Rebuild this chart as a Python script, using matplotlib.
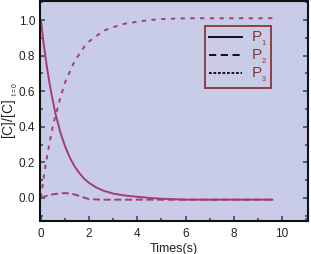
import matplotlib
matplotlib.use('Agg')
import matplotlib.pyplot as plt
from matplotlib.ticker import MultipleLocator

plt.rcParams['font.family'] = 'Liberation Sans'
plt.rcParams['mathtext.fontset'] = 'custom'
plt.rcParams['mathtext.rm'] = 'Liberation Sans'
plt.rcParams['mathtext.it'] = 'Liberation Sans'

# time points
t = [0, 0.1, 0.2, 0.3, 0.4, 0.5, 0.6, 0.8, 1.0, 1.2, 1.4, 1.6, 1.8, 2.0,
     2.3, 2.6, 3.0, 3.5, 4.0, 4.5, 5.0, 6, 7, 8, 9, 9.6]
p1 = [1.0, 0.88, 0.78, 0.69, 0.61, 0.54, 0.475, 0.37, 0.29, 0.226, 0.176,
      0.138, 0.107, 0.084, 0.058, 0.040, 0.024, 0.013, 0.006, 0.0, -0.005,
      -0.01, -0.01, -0.01, -0.01, -0.01]

t2 = [0, 0.25, 0.5, 0.75, 1.0, 1.25, 1.5, 1.75, 2.0, 2.5, 3, 4, 5, 6, 7, 8, 9, 9.6]
p2 = [0.0, 0.012, 0.02, 0.025, 0.027, 0.024, 0.015, 0.003, -0.007, -0.01,
      -0.01, -0.01, -0.01, -0.01, -0.01, -0.01, -0.01, -0.01]

t3 = [0, 0.1, 0.2, 0.3, 0.4, 0.5, 0.6, 0.8, 1.0, 1.2, 1.4, 1.6, 1.8, 2.0,
      2.3, 2.6, 3.0, 3.5, 4.0, 4.5, 5.0, 6, 7, 8, 9, 9.8]
p3 = [0.0, 0.10, 0.19, 0.27, 0.34, 0.41, 0.46, 0.56, 0.65, 0.71, 0.77, 0.81,
      0.85, 0.88, 0.91, 0.94, 0.96, 0.98, 0.99, 1.0, 1.005, 1.01, 1.01, 1.01,
      1.01, 1.01]

labels = ['P$_{_1}$', 'P$_{_2}$', 'P$_{_3}$']
curve_col = '#a53c78'
bg = '#c8cce6'
tick_col = '#2d4a9a'
legend_col = '#86363a'

fig = plt.figure(figsize=(3.11, 2.54), dpi=100)
fig.patch.set_facecolor('white')
ax = fig.add_axes([40 / 311, 1 - 221 / 254, 268 / 311, 220 / 254])
ax.set_facecolor(bg)

ax.plot(t, p1, color=curve_col, lw=1.4, ls='-')
ax.plot(t2, p2, color=curve_col, lw=1.4, ls=(0, (3.6, 1.9)))
ax.plot(t3, p3, color=curve_col, lw=1.4, ls=(0, (2.2, 2.8)))

ax.set_xlim(-0.04, 11.08)
ax.set_ylim(-0.13, 1.107)
ax.xaxis.set_major_locator(MultipleLocator(2))
ax.xaxis.set_minor_locator(MultipleLocator(1))
ax.yaxis.set_major_locator(MultipleLocator(0.2))
ax.yaxis.set_minor_locator(MultipleLocator(0.1))
ax.tick_params(which='both', direction='in', colors=tick_col, labelcolor='#222222',
               labelsize=8.5, right=True, top=False, width=1.2)
ax.tick_params(which='major', length=3.5)
ax.tick_params(which='minor', length=2.5)
ax.tick_params(axis='x', pad=5)

for s in ax.spines.values():
    s.set_color('#111111')
    s.set_linewidth(1.5)

ax.set_xlabel('Times(s)', fontsize=9, labelpad=2, color='#222222')
ax.set_ylabel(r'[C]/[C]$_{_{\rm \ \ t=0}}$', fontsize=10, color='#222222')
ax.yaxis.set_label_coords(-0.075, 0.5)

h = [plt.Line2D([], [], color='black', lw=1.3, ls='-'),
     plt.Line2D([], [], color='black', lw=1.3, ls=(0, (4, 2.5))),
     plt.Line2D([], [], color='black', lw=1.3, ls=(0, (1.5, 1)))]
leg = ax.legend(h, labels, loc='upper left', bbox_to_anchor=(0.615, 0.885),
                frameon=True, fancybox=False, fontsize=11, handlelength=2.2,
                handletextpad=0.6, labelspacing=0.0, borderpad=0.25,
                borderaxespad=0)
leg.get_frame().set_edgecolor(legend_col)
leg.get_frame().set_linewidth(1.3)
leg.get_frame().set_facecolor(bg)
leg.get_frame().set_alpha(1)
for txt in leg.get_texts():
    txt.set_color(legend_col)

fig.savefig('out.png', dpi=100)
